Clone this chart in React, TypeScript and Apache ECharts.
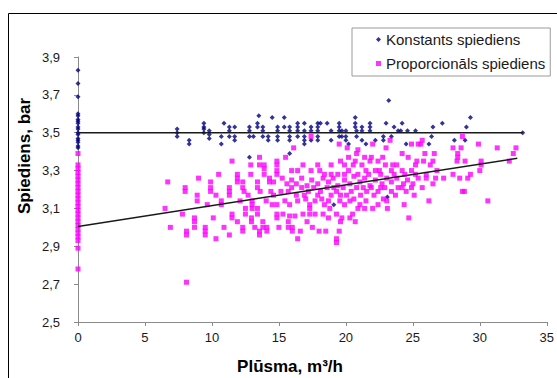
import React, { useEffect, useRef } from "react";
import * as echarts from "echarts";

// ---- Data ----
const xTicks = [0, 5, 10, 15, 20, 25, 30, 35];
const yTicks = [2.5, 2.7, 2.9, 3.1, 3.3, 3.5, 3.7, 3.9];

const seriesNames = ["Konstants spiediens", "Proporcionāls spiediens"];

// Konstants spiediens at zero flow (y values)
const konstantsZero = [3.83, 3.76, 3.69, 3.6, 3.59, 3.57, 3.56, 3.55, 3.53, 3.52, 3.5, 3.49, 3.47, 3.46, 3.45, 3.43, 3.42];

// Konstants spiediens [flow, pressure]
const konstantsPoints: [number, number][] = [
  [7.4, 3.52], [7.4, 3.5], [7.4, 3.48], [8.3, 3.46], [8.3, 3.44],
  [9.4, 3.55], [9.4, 3.53], [9.4, 3.52], [9.4, 3.5], [9.8, 3.51], [9.8, 3.49], [9.8, 3.47],
  [10.7, 3.48], [10.7, 3.44], [10.9, 3.55], [11.3, 3.53], [11.3, 3.51], [11.3, 3.48],
  [11.7, 3.53], [11.7, 3.48], [11.7, 3.46], [12.8, 3.53], [12.8, 3.51], [12.8, 3.48], [12.8, 3.37],
  [13.1, 3.48], [13.4, 3.55], [13.4, 3.53], [13.5, 3.59], [13.8, 3.53], [13.8, 3.51], [13.8, 3.48],
  [14.2, 3.48], [14.2, 3.46], [14.5, 3.58], [14.9, 3.53], [14.9, 3.51], [14.9, 3.48], [14.9, 3.46],
  [15.4, 3.58], [15.4, 3.53], [15.8, 3.53], [15.8, 3.51], [15.8, 3.48], [15.8, 3.46], [15.8, 3.39],
  [16.4, 3.55], [16.4, 3.53], [16.4, 3.51], [16.4, 3.48],
  [16.9, 3.55], [16.9, 3.51], [16.9, 3.48], [16.9, 3.46], [16.9, 3.44],
  [17.4, 3.53], [17.4, 3.51], [17.4, 3.46],
  [17.9, 3.55], [17.9, 3.53], [17.9, 3.51], [17.9, 3.48], [17.9, 3.46],
  [18.1, 3.55], [18.6, 3.55], [18.9, 3.51], [18.9, 3.46], [19.1, 3.12],
  [19.5, 3.55], [19.5, 3.53], [19.5, 3.51], [19.5, 3.48], [19.7, 3.51], [19.7, 3.48],
  [20.0, 3.51], [20.0, 3.48], [20.0, 3.46], [20.2, 3.44],
  [20.7, 3.58], [20.7, 3.55], [20.7, 3.53], [20.8, 3.51], [20.8, 3.48],
  [21.2, 3.53], [21.2, 3.51], [21.2, 3.46], [21.5, 3.44], [21.8, 3.55], [21.8, 3.53], [21.8, 3.51],
  [22.2, 3.46], [22.8, 3.48], [22.8, 3.46], [23.0, 3.55], [23.1, 3.16], [23.2, 3.67],
  [23.4, 3.48], [23.6, 3.53], [23.9, 3.51], [24.1, 3.51], [24.2, 3.55], [24.5, 3.44], [24.6, 3.51],
  [25.2, 3.51], [26.2, 3.44], [26.4, 3.48], [26.5, 3.53], [27.2, 3.55], [28.1, 3.46],
  [28.9, 3.46], [29.0, 3.53], [29.3, 3.58], [33.2, 3.5],
];

// Proporcionāls spiediens at zero flow (y values)
const proporcionalsZero = [3.39, 3.33, 3.31, 3.29, 3.27, 3.25, 3.23, 3.21, 3.19, 3.17, 3.15, 3.13, 3.11, 3.09, 3.07, 3.05, 3.03, 3.01, 2.99, 2.97, 2.95, 2.93, 2.89, 2.78];

// Proporcionāls spiediens, flow < 15
const proporcionalsLow: [number, number][] = [
  [6.5, 3.1], [6.7, 3.24], [6.9, 3.0], [7.8, 3.07], [8.0, 3.21], [8.0, 3.19], [8.1, 2.98], [8.1, 2.96], [8.1, 2.71],
  [8.7, 3.05], [8.7, 3.03], [8.7, 3.0], [8.9, 3.17], [8.9, 3.14], [9.0, 3.26],
  [9.5, 3.0], [9.5, 2.98], [9.5, 2.96], [9.65, 3.12], [9.9, 3.24], [9.9, 3.21], [9.9, 3.19],
  [10.1, 3.05], [10.3, 3.17], [10.3, 2.94], [10.5, 3.28], [10.7, 3.14], [10.7, 3.12], [10.9, 3.0],
  [11.3, 3.21], [11.3, 3.19], [11.3, 3.17], [11.3, 2.96], [11.5, 3.07], [11.5, 3.05], [11.5, 3.35],
  [11.9, 3.28], [11.9, 3.26], [11.9, 3.24], [11.9, 3.03], [12.1, 3.14],
  [12.3, 3.24], [12.3, 3.21], [12.3, 3.0], [12.3, 2.98], [12.4, 3.19], [12.5, 3.1], [12.5, 3.07], [12.7, 3.17],
  [12.9, 3.33], [12.9, 3.28], [13.0, 3.14], [13.0, 3.12], [13.0, 3.1], [12.95, 3.05], [12.95, 3.03], [13.2, 3.0],
  [13.4, 3.24], [13.4, 3.21], [13.4, 3.1], [13.4, 3.07], [13.55, 3.37], [13.55, 3.33], [13.55, 2.98], [13.55, 2.96],
  [13.6, 3.19], [13.8, 3.03], [13.8, 3.0], [13.9, 3.33], [13.9, 3.31], [13.9, 3.28], [14.05, 3.14], [14.1, 3.0], [14.1, 2.98],
  [14.3, 3.26], [14.3, 3.24], [14.4, 3.19], [14.6, 3.24], [14.6, 3.17], [14.5, 3.12],
  [14.85, 3.35], [14.85, 3.33], [14.85, 3.3], [14.85, 3.28], [14.85, 3.12], [14.85, 3.07], [14.85, 3.05], [15.0, 3.0],
];

// Proporcionāls spiediens, flow 15–25.5
const proporcionalsMid: [number, number][] = [
  [15.5, 3.37], [16.1, 3.42], [17.4, 3.48], [19.5, 3.44], [20.1, 3.42], [20.9, 3.41], [22.0, 3.44], [23.0, 3.42],
  [23.3, 3.46], [24.2, 3.39], [24.9, 3.44], [25.4, 3.44],
  [20.2, 3.37], [20.8, 3.39], [21.4, 3.37], [21.9, 3.37], [22.4, 3.35], [22.75, 3.37], [23.5, 3.33], [24.65, 3.37],
  [25.2, 3.33], [25.3, 3.35],
  [18.9, 3.33], [19.6, 3.35], [19.9, 3.33], [20.2, 3.3], [20.55, 3.33], [20.7, 3.35], [21.2, 3.33], [21.5, 3.3],
  [21.8, 3.35], [22.2, 3.3], [22.5, 3.3], [22.95, 3.33], [23.4, 3.3], [23.8, 3.33], [24.2, 3.3], [24.9, 3.3], [25.2, 3.28],
  [15.95, 3.3], [16.4, 3.3], [16.8, 3.33], [17.4, 3.3], [17.9, 3.33], [18.05, 3.3], [18.4, 3.28], [18.9, 3.28], [19.4, 3.28],
  [19.9, 3.28], [20.9, 3.28], [21.7, 3.28], [22.6, 3.28], [23.6, 3.28], [24.4, 3.28],
  [15.25, 3.26], [15.6, 3.23], [15.95, 3.25], [16.3, 3.23], [16.7, 3.26], [17.1, 3.22], [17.45, 3.25], [17.9, 3.23],
  [18.3, 3.26], [18.7, 3.24], [19.05, 3.26], [19.4, 3.22], [19.9, 3.25], [20.3, 3.23], [20.6, 3.27], [21.05, 3.24],
  [21.4, 3.26], [21.8, 3.22], [22.2, 3.25], [22.7, 3.23], [23.05, 3.26], [23.4, 3.24], [23.8, 3.26], [24.3, 3.23],
  [24.6, 3.25], [25.0, 3.23], [25.4, 3.26],
  [15.15, 3.19], [15.7, 3.19], [15.95, 3.21], [16.3, 3.17], [16.7, 3.21], [17.2, 3.19], [17.6, 3.21], [17.9, 3.17],
  [18.1, 3.19], [18.6, 3.21], [18.9, 3.17], [19.3, 3.19], [19.8, 3.21], [20.05, 3.17], [20.4, 3.19], [20.8, 3.21],
  [21.1, 3.17], [21.55, 3.19], [21.9, 3.21], [22.4, 3.19], [22.9, 3.21], [23.4, 3.19], [23.9, 3.21], [24.5, 3.19], [24.9, 3.21],
  [19.1, 3.21], [21.3, 3.21], [22.6, 3.21], [24.2, 3.21],
  [16.9, 3.17], [19.6, 3.17], [22.1, 3.17], [23.7, 3.17], [25.1, 3.17],
  [17.0, 3.15], [18.2, 3.15], [20.6, 3.15], [22.8, 3.15],
  [15.45, 3.14], [15.8, 3.12], [16.4, 3.14], [17.3, 3.12], [17.7, 3.14], [18.4, 3.12], [18.7, 3.14], [19.55, 3.14],
  [19.9, 3.12], [20.3, 3.14], [21.05, 3.12], [21.5, 3.14], [22.4, 3.12], [23.05, 3.14], [24.35, 3.12],
  [15.3, 3.07], [15.8, 3.06], [16.2, 3.06], [16.8, 3.07], [17.3, 3.07], [17.7, 3.07], [18.3, 3.07], [18.7, 3.05],
  [19.3, 3.07], [19.7, 3.05], [20.3, 3.05], [20.5, 3.07], [20.9, 3.1], [21.4, 3.1], [22.0, 3.1], [23.1, 3.1], [24.7, 3.05],
  [17.3, 3.1], [18.8, 3.1],
  [15.7, 3.03], [17.1, 3.03], [19.6, 3.03], [20.7, 3.03],
  [15.7, 3.0], [16.0, 3.0], [17.5, 3.0],
  [16.0, 2.98], [16.6, 2.98], [18.0, 2.98], [18.5, 2.98], [19.5, 2.98],
  [16.4, 2.94], [19.3, 2.94], [19.3, 2.92],
];

// Proporcionāls spiediens, flow > 25.5
const proporcionalsHigh: [number, number][] = [
  [25.7, 3.46], [25.6, 3.44], [28.7, 3.48], [28.0, 3.42], [29.9, 3.44], [31.3, 3.42], [32.7, 3.42], [28.6, 3.42],
  [28.35, 3.39], [28.35, 3.37], [25.9, 3.39], [26.6, 3.39], [25.8, 3.35], [26.5, 3.35], [26.3, 3.33], [26.8, 3.3],
  [28.3, 3.35], [28.9, 3.35], [30.1, 3.35], [30.1, 3.33], [30.0, 3.3], [32.2, 3.35], [32.5, 3.39],
  [26.0, 3.28], [26.0, 3.26], [26.7, 3.26], [26.5, 3.23], [27.3, 3.26], [28.0, 3.28], [28.5, 3.26], [29.1, 3.26],
  [29.3, 3.28], [25.7, 3.21], [28.7, 3.19], [28.85, 3.19], [26.2, 3.14], [30.6, 3.14],
];

// Trend lines
const konstantsTrend: [number, number][] = [[0, 3.5], [33.2, 3.5]];
const proporcionalsTrend: [number, number][] = [[0, 3.005], [32.8, 3.365]];

const FONT = '"Liberation Sans", Arial, sans-serif';

export default function App() {
  const ref = useRef<HTMLDivElement>(null);

  useEffect(() => {
    if (!ref.current) return;
    const chart = echarts.init(ref.current, null, { renderer: "svg" });

    const konstantsData = [
      ...konstantsZero.map((y) => [0, y]),
      ...konstantsPoints,
    ];
    const proporcionalsData = [
      ...proporcionalsZero.map((y) => [0, y]),
      ...proporcionalsLow,
      ...proporcionalsMid,
      ...proporcionalsHigh,
    ];

    const fmtY = (v: number) => v.toFixed(1).replace(".", ",");

    chart.setOption({
      animation: false,
      backgroundColor: "#ffffff",
      textStyle: { fontFamily: FONT },
      grid: { left: 78, top: 57, width: 469, height: 265, containLabel: false },
      xAxis: {
        type: "value",
        min: xTicks[0],
        max: xTicks[xTicks.length - 1],
        interval: 5,
        axisLine: { show: true, onZero: false, lineStyle: { color: "#8a8a8a", width: 1 } },
        axisTick: { show: true, length: 4, lineStyle: { color: "#8a8a8a" } },
        splitLine: { show: false },
        axisLabel: { color: "#1a1a1a", fontSize: 13, fontFamily: FONT, margin: 9 },
      },
      yAxis: {
        type: "value",
        min: yTicks[0],
        max: yTicks[yTicks.length - 1],
        interval: 0.2,
        axisLine: { show: true, onZero: false, lineStyle: { color: "#8a8a8a", width: 1 } },
        axisTick: { show: true, length: 4, lineStyle: { color: "#8a8a8a" } },
        splitLine: { show: false },
        axisLabel: { color: "#1a1a1a", fontSize: 13, fontFamily: FONT, margin: 18, formatter: fmtY },
      },
      legend: {
        data: seriesNames,
        orient: "vertical",
        left: 352,
        top: 28,
        padding: [3, 5, 4, 24],
        itemGap: 7,
        itemWidth: 5,
        itemHeight: 5,
        borderColor: "#9a9a9a",
        borderWidth: 1,
        backgroundColor: "#ffffff",
        selectedMode: false,
        textStyle: { fontSize: 15, lineHeight: 17, color: "#1a1a1a", fontFamily: FONT },
      },
      graphic: [
        {
          type: "rect",
          shape: { x: 8.5, y: 13.5, width: 700, height: 500 },
          style: { fill: "none", stroke: "#000000", lineWidth: 1 },
          silent: true,
          z: 0,
        },
        {
          type: "text",
          x: 24,
          y: 156,
          rotation: Math.PI / 2,
          style: {
            text: "Spiediens, bar",
            font: `bold 17px ${FONT}`,
            fill: "#000000",
            textAlign: "center",
            textVerticalAlign: "middle",
          },
        },
        {
          type: "text",
          x: 290,
          y: 366,
          style: {
            text: "Plūsma, m³/h",
            font: `bold 17px ${FONT}`,
            fill: "#000000",
            textAlign: "center",
            textVerticalAlign: "middle",
          },
        },
      ],
      series: [
        {
          name: seriesNames[0],
          type: "scatter",
          symbol: "diamond",
          symbolSize: 5,
          itemStyle: { color: "#000080" },
          data: konstantsData,
          silent: true,
          z: 2,
        },
        {
          name: seriesNames[1],
          type: "scatter",
          symbol: "rect",
          symbolSize: 5,
          itemStyle: { color: "#ff00ff" },
          data: proporcionalsData,
          silent: true,
          z: 3,
        },
        {
          name: "trend1",
          type: "line",
          data: konstantsTrend,
          symbol: "none",
          showSymbol: false,
          lineStyle: { color: "#1a1a1a", width: 1.5 },
          silent: true,
          z: 5,
        },
        {
          name: "trend2",
          type: "line",
          data: proporcionalsTrend,
          symbol: "none",
          showSymbol: false,
          lineStyle: { color: "#1a1a1a", width: 1.5 },
          silent: true,
          z: 5,
        },
      ],
    });

    return () => chart.dispose();
  }, []);

  return (
    <div
      ref={ref}
      style={{ position: "fixed", left: 0, top: 0, width: 557, height: 378 }}
    />
  );
}
